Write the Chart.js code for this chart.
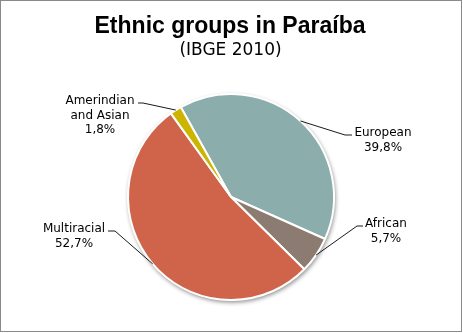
<!DOCTYPE html>
<html>
<head>
<meta charset="utf-8">
<script src="https://cdn.jsdelivr.net/npm/chart.js@4/dist/chart.umd.min.js"></script>
<style>
html,body{margin:0;padding:0;background:#fff;}
canvas{display:block;}
</style>
</head>
<body>
<canvas id="c" width="463" height="333"></canvas>
<script>
// ---- data ----
const categories = ["European", "African", "Multiracial", "Amerindian\nand Asian"];
const values = [39.8, 5.7, 52.7, 1.8];
const valueLabels = ["39,8%", "5,7%", "52,7%", "1,8%"];
const sliceColors = ["#8BADAC", "#8C7B70", "#D0644B", "#CCB400"];
const titleText = "Ethnic groups in Paraíba";
const subtitleText = "(IBGE 2010)";

// label layout (offsets relative to pie centre): elbow start, elbow end, text centre x
const labelLayout = [
  {e1: [114, -62], e2: [121, -62], tx: 152},
  {e1: [126, 29],  e2: [132, 29],  tx: 155},
  {e1: [-116, 34], e2: [-123, 34], tx: -157},
  {e1: [-88, -94], e2: [-93, -94], tx: -131}
];

const FONT = "'DejaVu Sans', Verdana, sans-serif";
const TITLE_FONT = "bold 23px 'Liberation Sans', Arial, sans-serif";
const SUB_FONT = "17px 'DejaVu Sans', Verdana, sans-serif";

const bgPlugin = {
  id: 'bg',
  beforeDraw(chart) {
    const ctx = chart.ctx;
    ctx.save();
    ctx.fillStyle = '#fff';
    ctx.fillRect(0, 0, chart.width, chart.height);
    ctx.restore();
  },
  afterDraw(chart) {
    const ctx = chart.ctx;
    ctx.save();
    // titles
    ctx.fillStyle = '#000';
    ctx.textAlign = 'center';
    ctx.textBaseline = 'alphabetic';
    ctx.font = TITLE_FONT;
    ctx.fillText(titleText, 230, 33);
    ctx.font = SUB_FONT;
    ctx.fillText(subtitleText, 230.5, 55);
    // frame
    ctx.strokeStyle = '#8a8a8a';
    ctx.lineWidth = 1;
    ctx.strokeRect(0.5, 0.5, chart.width - 2, chart.height - 2);
    ctx.restore();
  }
};

const shadowPlugin = {
  id: 'pieShadow',
  beforeDatasetsDraw(chart) {
    const arc = chart.getDatasetMeta(0).data[0];
    if (!arc) return;
    const ctx = chart.ctx;
    ctx.save();
    ctx.shadowColor = 'rgba(0,0,0,0.45)';
    ctx.shadowBlur = 4;
    ctx.shadowOffsetX = 1;
    ctx.shadowOffsetY = 2;
    ctx.fillStyle = '#fff';
    ctx.beginPath();
    ctx.arc(arc.x, arc.y, arc.outerRadius + 0.5, 0, Math.PI * 2);
    ctx.fill();
    ctx.restore();
  }
};

const labelPlugin = {
  id: 'leaderLabels',
  afterDatasetsDraw(chart) {
    const meta = chart.getDatasetMeta(0);
    const ctx = chart.ctx;
    ctx.save();
    meta.data.forEach((arc, i) => {
      const cx = arc.x, cy = arc.y, r = arc.outerRadius;
      const mid = (arc.startAngle + arc.endAngle) / 2;
      const L = labelLayout[i];
      const p0 = [cx + r * Math.cos(mid), cy + r * Math.sin(mid)];
      ctx.strokeStyle = '#1a1a1a';
      ctx.lineWidth = 1;
      ctx.beginPath();
      ctx.moveTo(p0[0], p0[1]);
      ctx.lineTo(cx + L.e1[0], cy + L.e1[1]);
      ctx.lineTo(cx + L.e2[0], cy + L.e2[1]);
      ctx.stroke();
      const lines = categories[i].split("\n").concat([valueLabels[i]]);
      ctx.fillStyle = '#000';
      ctx.font = "12px " + FONT;
      ctx.textAlign = 'center';
      ctx.textBaseline = 'alphabetic';
      lines.forEach((t, k) => {
        ctx.fillText(t, cx + L.tx, cy + L.e1[1] + 1 + k * 14.7);
      });
    });
    ctx.restore();
  }
};

new Chart(document.getElementById('c'), {
  type: 'pie',
  data: {
    labels: categories,
    datasets: [{
      data: values,
      backgroundColor: sliceColors,
      borderColor: '#ffffff',
      borderWidth: 2,
      radius: 103
    }]
  },
  options: {
    responsive: false,
    animation: false,
    rotation: -29.2,
    layout: {padding: {top: 70, bottom: 9, left: 0, right: 1}},
    plugins: {
      legend: {display: false},
      tooltip: {enabled: false},
      title: {display: false},
      subtitle: {display: false}
    }
  },
  plugins: [bgPlugin, shadowPlugin, labelPlugin]
});
</script>
</body>
</html>
